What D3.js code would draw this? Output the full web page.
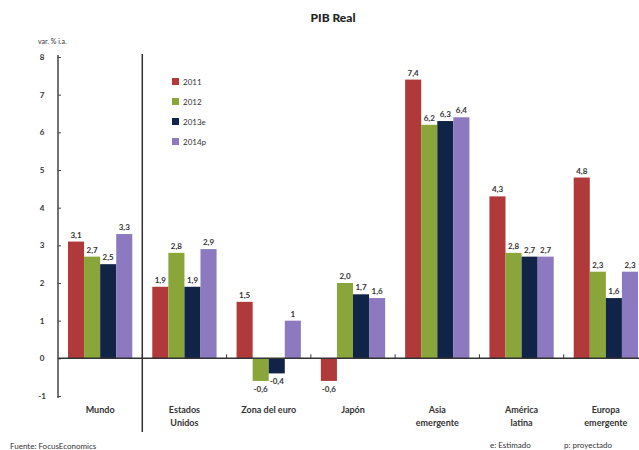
<html>
  <head>
    <meta charset="utf-8">
    <script src="https://cdn.jsdelivr.net/npm/d3@7"></script>
    <style>
      body { margin: 0; background: #fff; }
      text { font-family: "Lato", "Open Sans", sans-serif; }
    </style>
  </head>
  <body>
    <div id="chart"></div>
    <script>
      // data
      const categories = ["Mundo", "Estados Unidos", "Zona del euro", "Japón", "Asia emergente", "América latina", "Europa emergente"];
      const categoryLines = [["Mundo"], ["Estados", "Unidos"], ["Zona del euro"], ["Japón"], ["Asia", "emergente"], ["América", "latina"], ["Europa", "emergente"]];
      const seriesNames = ["2011", "2012", "2013e", "2014p"];
      const v2011 = [3.1, 1.9, 1.5, -0.6, 7.4, 4.3, 4.8];
      const v2012 = [2.7, 2.8, -0.6, 2.0, 6.2, 2.8, 2.3];
      const v2013 = [2.5, 1.9, -0.4, 1.7, 6.3, 2.7, 1.6];
      const v2014 = [3.3, 2.9, 1.0, 1.6, 6.4, 2.7, 2.3];
      const labels2011 = ["3,1", "1,9", "1,5", "-0,6", "7,4", "4,3", "4,8"];
      const labels2012 = ["2,7", "2,8", "-0,6", "2,0", "6,2", "2,8", "2,3"];
      const labels2013 = ["2,5", "1,9", "-0,4", "1,7", "6,3", "2,7", "1,6"];
      const labels2014 = ["3,3", "2,9", "1", "1,6", "6,4", "2,7", "2,3"];
      const yTicks = [-1, 0, 1, 2, 3, 4, 5, 6, 7, 8];

      const colors = ["#b0393a", "#8aa63a", "#112448", "#8c79c0"];
      const values = [v2011, v2012, v2013, v2014];
      const valueLabels = [labels2011, labels2012, labels2013, labels2014];

      const rows = [];
      categories.forEach((c, i) => {
        seriesNames.forEach((s, j) => {
          rows.push({ cat: c, series: s, value: values[j][i], label: valueLabels[j][i], color: colors[j] });
        });
      });

      const W = 639, H = 450;
      const svg = d3.select("#chart").append("svg")
        .attr("width", W).attr("height", H);

      const x = d3.scaleBand().domain(categories).range([58, 648]).padding(0);
      const xs = d3.scaleBand().domain(seriesNames).range([10, x.bandwidth() - 10]).padding(0);
      const y = d3.scaleLinear().domain([-1, 8]).range([396, 57]);

      // title
      svg.append("text").attr("x", 333).attr("y", 22)
        .attr("text-anchor", "middle")
        .style("font-size", "12px").style("font-weight", "900").attr("fill", "#222")
        .text("PIB Real");

      svg.append("text").attr("x", 38).attr("y", 44)
        .style("font-size", "7px").attr("fill", "#333")
        .text("var. % i.a.");

      // bars
      svg.selectAll("rect.bar").data(rows).join("rect")
        .attr("class", "bar")
        .attr("x", d => x(d.cat) + xs(d.series))
        .attr("width", xs.bandwidth())
        .attr("y", d => y(Math.max(0, d.value)))
        .attr("height", d => Math.abs(y(d.value) - y(0)))
        .attr("fill", d => d.color);

      // value labels
      svg.selectAll("text.val").data(rows).join("text")
        .attr("class", "val")
        .attr("x", d => x(d.cat) + xs(d.series) + xs.bandwidth() / 2)
        .attr("y", d => d.value >= 0 ? y(d.value) - 4 : y(d.value) + 11)
        .attr("text-anchor", "middle")
        .style("font-size", "8px").style("font-weight", "bold").attr("fill", "#333")
        .text(d => d.label);

      // y axis
      const yAxis = d3.axisRight(y).tickValues(yTicks).tickSize(3).tickFormat(d => d);
      const yg = svg.append("g").attr("transform", "translate(58,0)").call(yAxis);
      yg.select(".domain").attr("stroke", "#444").attr("stroke-width", 1.5).attr("d", "M0,55V398");
      yg.selectAll(".tick line").attr("stroke", "#444");
      yg.selectAll(".tick text").attr("x", -16).attr("text-anchor", "middle")
        .style("font-size", "8px").style("font-weight", "bold").attr("fill", "#333");

      // x axis at zero
      const xAxis = d3.axisTop(x).tickValues(categories).tickSize(0).tickFormat("");
      const xg = svg.append("g").attr("transform", `translate(0,${y(0)})`).call(xAxis);
      xg.select(".domain").attr("stroke", "#333").attr("stroke-width", 1.5).attr("d", "M58,0H639");
      svg.selectAll("line.sep").data(categories.slice(1)).join("line")
        .attr("class", "sep")
        .attr("x1", d => x(d)).attr("x2", d => x(d))
        .attr("y1", y(0) - 4).attr("y2", y(0))
        .attr("stroke", "#333");

      // separator between Mundo and the rest
      svg.append("line")
        .attr("x1", x(categories[1])).attr("x2", x(categories[1]))
        .attr("y1", 54).attr("y2", 432)
        .attr("stroke", "#333").attr("stroke-width", 1.5);

      // category labels
      categories.forEach((c, i) => {
        const t = svg.append("text")
          .attr("x", x(c) + x.bandwidth() / 2).attr("y", 413)
          .attr("text-anchor", "middle")
          .style("font-size", "9px").style("font-weight", "bold").attr("fill", "#333");
        categoryLines[i].forEach((line, k) => {
          t.append("tspan").attr("x", x(c) + x.bandwidth() / 2).attr("dy", k === 0 ? 0 : 13).text(line);
        });
      });

      // legend
      const legend = svg.selectAll("g.leg").data(seriesNames).join("g")
        .attr("class", "leg")
        .attr("transform", (d, i) => `translate(172,${78 + i * 20})`);
      legend.append("rect").attr("width", 7).attr("height", 7)
        .attr("fill", (d, i) => colors[i]);
      legend.append("text").attr("x", 11).attr("y", 7)
        .style("font-size", "8px").attr("fill", "#333")
        .text(d => d);

      // footer
      svg.append("text").attr("x", 10).attr("y", 449)
        .style("font-size", "8px").attr("fill", "#333")
        .text("Fuente: FocusEconomics");
      svg.append("text").attr("x", 490).attr("y", 448)
        .style("font-size", "8px").attr("fill", "#333")
        .text("e: Estimado");
      svg.append("text").attr("x", 564).attr("y", 448)
        .style("font-size", "8px").attr("fill", "#333")
        .text("p: proyectado");
    </script>
  </body>
</html>
